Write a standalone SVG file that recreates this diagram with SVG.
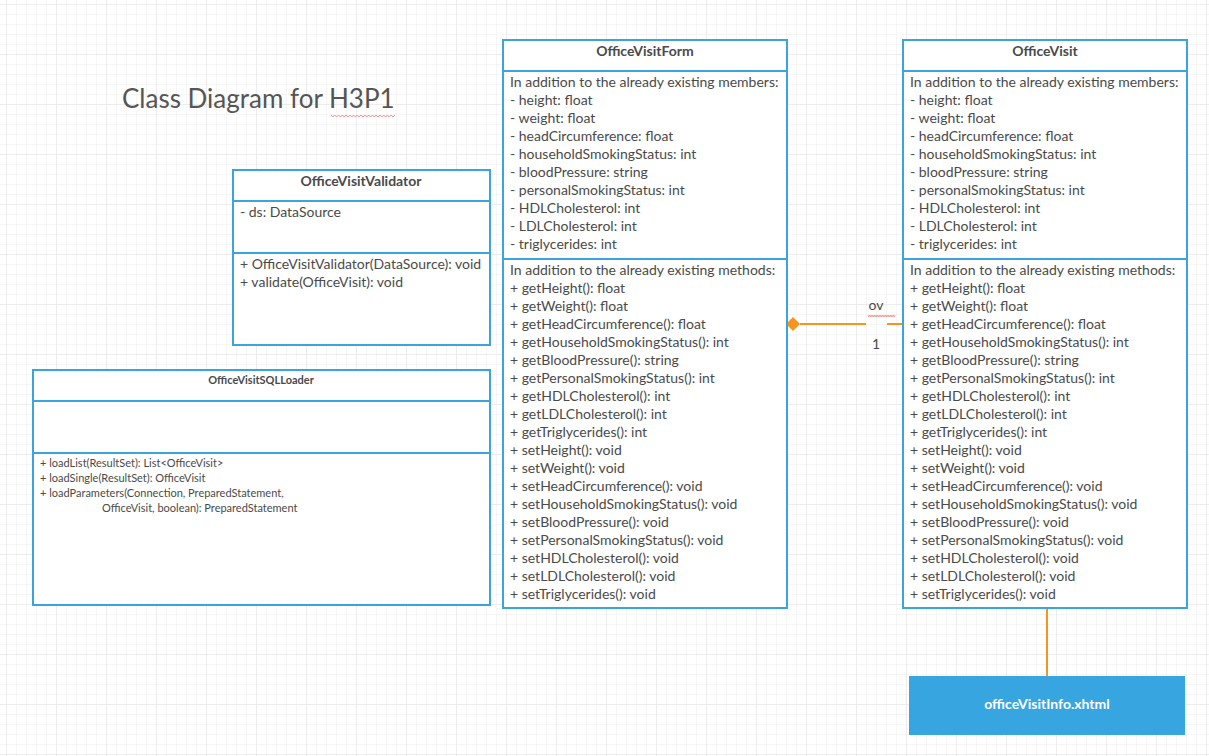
<svg xmlns="http://www.w3.org/2000/svg" width="1209" height="756" viewBox="0 0 1209 756">
  <defs>
    <pattern id="grid-minor" x="6" y="4" width="10" height="10" patternUnits="userSpaceOnUse">
      <path d="M0 0H10M0 0V10" fill="none" stroke="#ededed" stroke-width="1"/>
    </pattern>
    <pattern id="grid-major" x="6" y="4" width="50" height="50" patternUnits="userSpaceOnUse">
      <path d="M0 0H50M0 0V50" fill="none" stroke="#e3e3e3" stroke-width="1"/>
    </pattern>
    <path id="squiggle" d="M0 0l2 2l2-2l2 2l2-2l2 2l2-2l2 2l2-2l2 2l2-2l2 2l2-2l2 2l2-2l2 2l2-2l2 2l2-2l2 2l2-2l2 2l2-2l2 2l2-2l2 2l2-2l2 2l2-2l2 2l2-2l2 2l2-2l2 2l2-2" fill="none" stroke="#f08a8a" stroke-width="1"/>
  </defs>
  <style>
    text { font-family: Lato, "Liberation Sans", sans-serif; fill: #4a4a4a; }
    .box { fill: #ffffff; stroke: #3ba4de; stroke-width: 2; }
    .div { stroke: #3ba4de; stroke-width: 2; }
    .title { font-size: 14px; font-weight: bold; text-anchor: middle; }
    .row { font-size: 14px; }
    .small-title { font-size: 11px; font-weight: bold; text-anchor: middle; }
    .small-row { font-size: 11px; }
    .link { stroke: #f7941d; stroke-width: 2; fill: none; }
  </style>

  <!-- canvas grid -->
  <rect width="1209" height="756" fill="#ffffff"/>
  <rect width="1209" height="756" fill="url(#grid-minor)"/>
  <rect width="1209" height="756" fill="url(#grid-major)"/>

  <!-- heading -->
  <g id="heading">
    <text x="122" y="108" style="font-size:26px;fill:#555555">Class Diagram for H3P1</text>
    <use href="#squiggle" transform="translate(331 115) scale(0.94 1)"/>
  </g>

  <!-- connectors -->
  <g id="connectors">
    <line class="link" x1="800" y1="324" x2="866" y2="324"/>
    <line class="link" x1="887" y1="324" x2="903" y2="324"/>
    <polygon points="786,324 793,317 800,324 793,331" fill="#f7941d"/>
    <text x="876" y="310" class="row" text-anchor="middle">ov</text>
    <use href="#squiggle" transform="translate(868 315) scale(0.4 1)"/>
    <text x="876" y="349" class="row" text-anchor="middle">1</text>
    <line class="link" x1="1047" y1="609" x2="1047" y2="676"/>
  </g>

  <!-- OfficeVisitValidator -->
  <g id="office-visit-validator">
    <rect class="box" x="233" y="170" width="257" height="175"/>
    <line class="div" x1="233" y1="201" x2="490" y2="201"/>
    <line class="div" x1="233" y1="253" x2="490" y2="253"/>
    <text class="title" x="361" y="186">OfficeVisitValidator</text>
    <text class="row" x="240" y="217">- ds: DataSource</text>
    <text class="row" x="240" y="269">+ OfficeVisitValidator(DataSource): void</text>
    <text class="row" x="240" y="287">+ validate(OfficeVisit): void</text>
  </g>

  <!-- OfficeVisitSQLLoader -->
  <g id="office-visit-sql-loader">
    <rect class="box" x="33" y="370" width="457" height="235"/>
    <line class="div" x1="33" y1="401" x2="490" y2="401"/>
    <line class="div" x1="33" y1="453" x2="490" y2="453"/>
    <text class="small-title" x="261" y="384">OfficeVisitSQLLoader</text>
    <text class="small-row" x="40" y="467">+ loadList(ResultSet): List&lt;OfficeVisit&gt;</text>
    <text class="small-row" x="40" y="482">+ loadSingle(ResultSet): OfficeVisit</text>
    <text class="small-row" x="40" y="497">+ loadParameters(Connection, PreparedStatement,</text>
    <text class="small-row" x="102" y="512">OfficeVisit, boolean): PreparedStatement</text>
  </g>

  <!-- OfficeVisitForm -->
  <g id="office-visit-form">
    <rect class="box" x="503" y="40" width="284" height="568"/>
    <line class="div" x1="503" y1="71" x2="787" y2="71"/>
    <line class="div" x1="503" y1="259" x2="787" y2="259"/>
    <text class="title" x="645" y="56">OfficeVisitForm</text>
    <text class="row" x="510">
      <tspan x="510" y="87">In addition to the already existing members:</tspan>
      <tspan x="510" y="105">- height: float</tspan>
      <tspan x="510" y="123">- weight: float</tspan>
      <tspan x="510" y="141">- headCircumference: float</tspan>
      <tspan x="510" y="159">- householdSmokingStatus: int</tspan>
      <tspan x="510" y="177">- bloodPressure: string</tspan>
      <tspan x="510" y="195">- personalSmokingStatus: int</tspan>
      <tspan x="510" y="213">- HDLCholesterol: int</tspan>
      <tspan x="510" y="231">- LDLCholesterol: int</tspan>
      <tspan x="510" y="249">- triglycerides: int</tspan>
    </text>
    <text class="row" x="510">
      <tspan x="510" y="275">In addition to the already existing methods:</tspan>
      <tspan x="510" y="293">+ getHeight(): float</tspan>
      <tspan x="510" y="311">+ getWeight(): float</tspan>
      <tspan x="510" y="329">+ getHeadCircumference(): float</tspan>
      <tspan x="510" y="347">+ getHouseholdSmokingStatus(): int</tspan>
      <tspan x="510" y="365">+ getBloodPressure(): string</tspan>
      <tspan x="510" y="383">+ getPersonalSmokingStatus(): int</tspan>
      <tspan x="510" y="401">+ getHDLCholesterol(): int</tspan>
      <tspan x="510" y="419">+ getLDLCholesterol(): int</tspan>
      <tspan x="510" y="437">+ getTriglycerides(): int</tspan>
      <tspan x="510" y="455">+ setHeight(): void</tspan>
      <tspan x="510" y="473">+ setWeight(): void</tspan>
      <tspan x="510" y="491">+ setHeadCircumference(): void</tspan>
      <tspan x="510" y="509">+ setHouseholdSmokingStatus(): void</tspan>
      <tspan x="510" y="527">+ setBloodPressure(): void</tspan>
      <tspan x="510" y="545">+ setPersonalSmokingStatus(): void</tspan>
      <tspan x="510" y="563">+ setHDLCholesterol(): void</tspan>
      <tspan x="510" y="581">+ setLDLCholesterol(): void</tspan>
      <tspan x="510" y="599">+ setTriglycerides(): void</tspan>
    </text>
  </g>

  <!-- OfficeVisit -->
  <g id="office-visit">
    <rect class="box" x="903" y="40" width="284" height="568"/>
    <line class="div" x1="903" y1="71" x2="1187" y2="71"/>
    <line class="div" x1="903" y1="259" x2="1187" y2="259"/>
    <text class="title" x="1045" y="56">OfficeVisit</text>
    <text class="row" x="910">
      <tspan x="910" y="87">In addition to the already existing members:</tspan>
      <tspan x="910" y="105">- height: float</tspan>
      <tspan x="910" y="123">- weight: float</tspan>
      <tspan x="910" y="141">- headCircumference: float</tspan>
      <tspan x="910" y="159">- householdSmokingStatus: int</tspan>
      <tspan x="910" y="177">- bloodPressure: string</tspan>
      <tspan x="910" y="195">- personalSmokingStatus: int</tspan>
      <tspan x="910" y="213">- HDLCholesterol: int</tspan>
      <tspan x="910" y="231">- LDLCholesterol: int</tspan>
      <tspan x="910" y="249">- triglycerides: int</tspan>
    </text>
    <text class="row" x="910">
      <tspan x="910" y="275">In addition to the already existing methods:</tspan>
      <tspan x="910" y="293">+ getHeight(): float</tspan>
      <tspan x="910" y="311">+ getWeight(): float</tspan>
      <tspan x="910" y="329">+ getHeadCircumference(): float</tspan>
      <tspan x="910" y="347">+ getHouseholdSmokingStatus(): int</tspan>
      <tspan x="910" y="365">+ getBloodPressure(): string</tspan>
      <tspan x="910" y="383">+ getPersonalSmokingStatus(): int</tspan>
      <tspan x="910" y="401">+ getHDLCholesterol(): int</tspan>
      <tspan x="910" y="419">+ getLDLCholesterol(): int</tspan>
      <tspan x="910" y="437">+ getTriglycerides(): int</tspan>
      <tspan x="910" y="455">+ setHeight(): void</tspan>
      <tspan x="910" y="473">+ setWeight(): void</tspan>
      <tspan x="910" y="491">+ setHeadCircumference(): void</tspan>
      <tspan x="910" y="509">+ setHouseholdSmokingStatus(): void</tspan>
      <tspan x="910" y="527">+ setBloodPressure(): void</tspan>
      <tspan x="910" y="545">+ setPersonalSmokingStatus(): void</tspan>
      <tspan x="910" y="563">+ setHDLCholesterol(): void</tspan>
      <tspan x="910" y="581">+ setLDLCholesterol(): void</tspan>
      <tspan x="910" y="599">+ setTriglycerides(): void</tspan>
    </text>
  </g>

  <!-- officeVisitInfo.xhtml page -->
  <g id="office-visit-info-page">
    <rect x="909" y="676" width="276" height="59" fill="#37a5e0"/>
    <text x="1047" y="709" text-anchor="middle" style="font-size:14px;font-weight:bold;fill:#ffffff">officeVisitInfo.xhtml</text>
  </g>
</svg>
